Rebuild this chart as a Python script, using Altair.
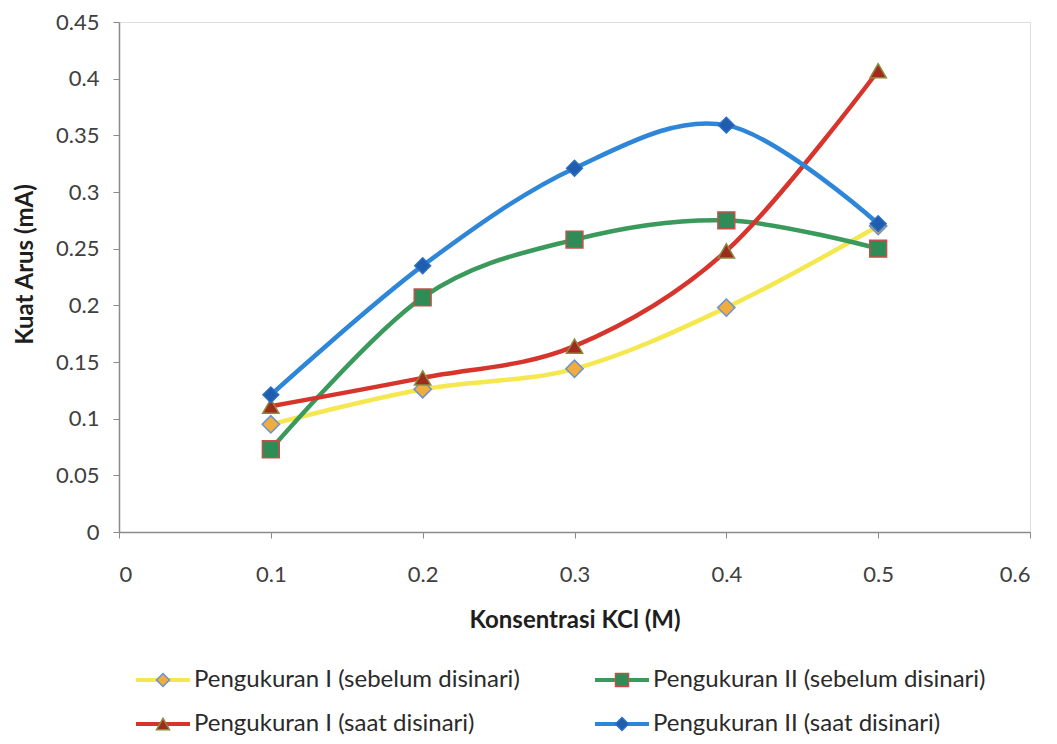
import altair as alt
import pandas as pd

# ---- data ----
x_values = [0.1, 0.2, 0.3, 0.4, 0.5]
series_names = [
    "Pengukuran I (sebelum disinari)",
    "Pengukuran II (sebelum disinari)",
    "Pengukuran I (saat disinari)",
    "Pengukuran II (saat disinari)",
]
p1_sebelum = [0.095, 0.126, 0.144, 0.198, 0.270]
p2_sebelum = [0.073, 0.207, 0.258, 0.275, 0.250]
p1_saat = [0.111, 0.136, 0.164, 0.248, 0.407]
p2_saat = [0.121, 0.235, 0.321, 0.359, 0.272]
x_ticks = [0, 0.1, 0.2, 0.3, 0.4, 0.5, 0.6]
y_ticks = [0, 0.05, 0.1, 0.15, 0.2, 0.25, 0.3, 0.35, 0.4, 0.45]

# ---- styles ----
line_colors = ["#F4E84E", "#3A9A5B", "#D7342C", "#2E86D9"]
marker_fill = ["#F0AC3E", "#2F8C57", "#9E2B1E", "#1F5DAE"]
marker_stroke = ["#6A93CE", "#C4504A", "#8C8A3E", "#2B6FC4"]
shapes = ["diamond", "square", "triangle-up", "diamond"]
marker_size = [300, 250, 230, 300]
FONT = "Lato"

all_series = [p1_sebelum, p2_sebelum, p1_saat, p2_saat]
rows = []
for name, vals in zip(series_names, all_series):
    for xv, yv in zip(x_values, vals):
        rows.append({"series": name, "x": xv, "y": yv})
df = pd.DataFrame(rows)

legend_df = pd.DataFrame({
    "series": series_names,
    "col": [i % 2 for i in range(len(series_names))],
    "row": [i // 2 for i in range(len(series_names))],
})

color_enc = alt.Color("series:N", scale=alt.Scale(domain=series_names, range=line_colors), legend=None)
fill_enc = alt.Fill("series:N", scale=alt.Scale(domain=series_names, range=marker_fill), legend=None)
stroke_enc = alt.Stroke("series:N", scale=alt.Scale(domain=series_names, range=marker_stroke), legend=None)
shape_enc = alt.Shape("series:N", scale=alt.Scale(domain=series_names, range=shapes), legend=None)
size_enc = alt.Size("series:N", scale=alt.Scale(domain=series_names, range=marker_size), legend=None)

x_enc = alt.X(
    "x:Q",
    scale=alt.Scale(domain=[0, 0.6], nice=False),
    axis=alt.Axis(
        values=x_ticks, format="~g", title="Konsentrasi KCl (M)", grid=False,
        labelFontSize=22, labelFont=FONT, labelColor="#404040", labelPadding=26,
        tickSize=6, tickColor="#8A8A8A", domainColor="#8A8A8A", domainWidth=1.5,
        titleFont=FONT, titleFontSize=24, titleFontWeight="bold", titleColor="#1E1E1E",
        titleY=88, titleBaseline="middle",
    ),
)
y_enc = alt.Y(
    "y:Q",
    scale=alt.Scale(domain=[0, 0.45], nice=False),
    axis=alt.Axis(
        values=y_ticks, format="~g", title="Kuat Arus (mA)", grid=False,
        labelFontSize=22, labelFont=FONT, labelColor="#404040", labelPadding=14,
        tickSize=6, tickColor="#8A8A8A", domainColor="#8A8A8A", domainWidth=1.5,
        titleFont=FONT, titleFontSize=24, titleFontWeight="bold", titleColor="#1E1E1E",
        titleX=-94, titleY=242, titleAngle=270, titleAlign="center", titleBaseline="middle",
    ),
)

lines = alt.Chart(df).mark_line(interpolate="cardinal", strokeWidth=4.5).encode(
    x=x_enc, y=y_enc, color=color_enc, detail="series:N"
)
points = alt.Chart(df).mark_point(filled=True, strokeWidth=1.5, opacity=1).encode(
    x="x:Q", y="y:Q", fill=fill_enc, stroke=stroke_enc, shape=shape_enc, size=size_enc
)
main = alt.layer(lines, points)

lx = alt.X("col:Q", scale=alt.Scale(domain=[0, 1], range=[44, 503]), axis=None)
ly = alt.Y("row:Q", scale=alt.Scale(domain=[0, 1], range=[658, 702]), axis=None)

leg_line = alt.Chart(legend_df).mark_rule(strokeWidth=4, xOffset=-27, x2Offset=27).encode(
    x=lx, x2=alt.X2("col"), y=ly, color=color_enc
)
leg_pt = alt.Chart(legend_df).mark_point(filled=True, strokeWidth=1.5, opacity=1, size=170).encode(
    x=lx, y=ly, fill=fill_enc, stroke=stroke_enc, shape=shape_enc
)
leg_txt = alt.Chart(legend_df).mark_text(
    align="left", baseline="middle", dx=31, fontSize=24, font=FONT, color="#2A2A2A"
).encode(x=lx, y=ly, text="series:N")
legend = alt.layer(leg_line, leg_pt, leg_txt)

chart = (
    alt.layer(main, legend)
    .resolve_scale(x="independent", y="independent")
    .properties(width=911, height=510, padding={"left": 5, "top": 3, "right": 0, "bottom": 0})
    .configure_view(stroke=None)
    .configure(background="white")
)

chart.save("out.html", embed_options={"renderer": "svg", "actions": False})
